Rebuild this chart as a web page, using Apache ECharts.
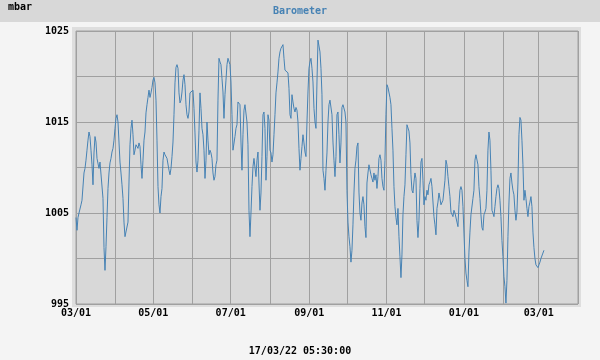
<!DOCTYPE html>
<html>
<head>
<meta charset="utf-8">
<script src="https://cdn.jsdelivr.net/npm/echarts@6/dist/echarts.min.js"></script>
<style>html,body{margin:0;padding:0;background:#f4f4f4;}#c{width:600px;height:360px;}</style>
</head>
<body>
<div id="c"></div>
<script>
// Barometer readings (mbar), one sample every ~18.93 h starting 2021-03-01
var startDate = '2021-03-01';
var sampleStepHours = 18.93;
var axisStart = '2021-03-01';
var axisEnd = '2022-04-01';
var yMin = 995, yMax = 1025, yStep = 5;
var labelledTicks = [995, 1005, 1015, 1025];
var titleText = 'Barometer';
var unitText = 'mbar';
var stampText = '17/03/22 05:30:00';

var segA = [1004.5,1003.1,1004.5,1005.0,1005.0,1005.9,1006.4,1006.6,1009.4,1009.9,
1010.8,1011.9,1013.0,1013.9,1013.4,1011.9,1010.3,1008.1,1011.6,1013.4,
1012.8,1011.0,1010.8,1009.9,1010.6,1010.8,1010.8,1006.6,1001.2,998.7,
1001.3,1004.5,1007.7,1009.4,1010.5,1011.0,1011.7,1012.1,1013.0,1014.3,
1015.4,1015.8,1015.0,1012.8,1010.6,1009.4,1008.1,1006.6,1004.0,1002.4];
var segB = [1002.4,1002.4,1004.0,1008.4,1012.5,1014.3,1015.2,1013.6,1011.4,1011.9,
1012.5,1012.7,1012.1,1012.7,1012.3,1010.3,1008.8,1010.8,1013.0,1013.9,
1016.0,1016.9,1017.7,1018.5,1017.7,1018.2,1018.8,1019.6,1019.9,1019.3,
1017.4,1013.0,1007.9,1005.9,1005.0,1006.8,1007.7,1010.8,1011.7,1011.4,
1011.2,1011.0,1010.8,1009.7,1009.2,1009.9,1011.2,1012.8,1015.8,1019.3];
var segC = [1021.0,1021.3,1020.9,1018.2,1017.1,1017.4,1018.3,1019.6,1020.2,1019.1,
1016.9,1015.8,1015.4,1016.1,1018.2,1018.0,1018.2,1018.5,1016.5,1013.8,
1010.6,1009.5,1010.8,1014.1,1018.2,1016.5,1014.3,1013.6,1011.9,1008.8,
1010.8,1015.0,1013.0,1011.4,1011.9,1011.6,1011.0,1009.4,1008.6,1009.0,
1010.3,1010.8,1017.4,1022.0,1021.6,1021.3,1019.8,1018.3,1015.4,1018.0];
var segD = [1019.6,1021.3,1022.0,1022.1,1021.3,1019.4,1015.8,1011.9,1012.1,1013.4,
1014.3,1014.7,1017.2,1017.4,1016.9,1012.8,1009.7,1013.6,1016.3,1016.9,
1016.9,1015.0,1012.5,1005.3,1002.4,1005.0,1007.9,1010.1,1011.0,1011.2,
1009.0,1010.8,1011.7,1008.3,1005.3,1007.2,1011.2,1015.8,1016.1,1014.3,
1008.6,1011.2,1015.8,1015.2,1011.9,1011.6,1010.6,1011.4,1013.6,1015.8];
var segE = [1018.2,1019.3,1020.5,1022.0,1022.7,1023.1,1023.2,1023.5,1022.0,1020.7,
1020.5,1020.5,1020.4,1018.7,1015.8,1015.4,1018.0,1017.2,1016.5,1016.1,
1016.6,1016.3,1015.0,1012.1,1009.7,1011.0,1012.3,1013.6,1012.7,1011.7,
1011.2,1015.0,1018.3,1020.9,1021.6,1022.0,1020.9,1019.4,1016.5,1015.0,
1014.3,1019.4,1024.0,1024.2,1022.7,1020.9,1018.0,1009.7,1008.8,1007.5];
var segF = [1009.7,1011.6,1015.0,1016.9,1017.4,1017.2,1015.8,1012.8,1010.8,1009.0,
1011.2,1015.8,1016.1,1013.6,1010.5,1012.7,1016.6,1016.9,1016.9,1016.1,
1015.0,1007.5,1004.0,1002.4,1001.3,999.6,1000.9,1003.7,1007.2,1009.9,
1010.8,1012.3,1012.7,1007.3,1005.0,1004.2,1006.1,1006.8,1005.9,1003.5,
1002.3,1008.3,1009.4,1010.3,1010.1,1009.2,1008.8,1008.4,1009.4,1008.6];
var segG = [1009.2,1007.7,1009.0,1011.0,1011.4,1010.8,1008.8,1007.9,1007.5,1010.8,
1015.8,1019.1,1018.8,1018.7,1017.7,1016.9,1014.3,1011.9,1007.9,1005.7,
1004.5,1003.7,1005.5,1002.4,1000.2,997.9,1000.4,1004.8,1006.8,1008.1,
1011.4,1014.7,1014.8,1014.0,1012.7,1009.2,1007.5,1007.2,1008.4,1009.4,
1008.8,1004.2,1002.3,1004.2,1007.7,1010.6,1011.0,1008.6,1005.9,1006.8];
var segH = [1006.4,1007.5,1007.0,1008.1,1008.4,1008.8,1007.9,1007.7,1004.6,1003.7,
1002.6,1005.5,1006.2,1007.2,1006.6,1005.9,1006.1,1006.4,1006.2,1008.6,
1010.8,1010.3,1009.0,1007.9,1006.8,1005.1,1005.0,1004.6,1005.3,1005.0,
1005.1,1004.0,1003.5,1005.9,1007.5,1007.9,1007.5,1005.7,1002.8,1000.0,
998.4,997.6,996.9,1000.7,1002.9,1004.8,1004.8,1006.6,1007.5,1010.8];
var segI = [1011.4,1011.4,1010.3,1007.9,1006.6,1004.8,1003.4,1003.1,1004.8,1005.1,
1005.5,1007.5,1011.9,1013.9,1013.0,1009.7,1005.3,1005.0,1004.6,1005.7,
1006.8,1007.7,1008.1,1007.7,1006.4,1004.6,1002.0,1000.2,998.0,996.9,
995.1,997.6,1002.4,1006.1,1008.8,1009.4,1008.3,1007.5,1007.0,1005.3,
1004.2,1005.1,1008.3,1013.6,1015.5,1015.2,1013.0,1010.3,1006.4,1007.5];
var segJ = [1006.6,1005.5,1004.6,1005.7,1006.2,1006.8,1005.7,1002.9,1001.2,1000.0,
999.3,999.1,999.0,999.3,999.6,1000.0,1000.2,1000.6,1000.9];

var values = [].concat(segA, segB, segC, segD, segE, segF, segG, segH, segI, segJ);
var t0 = Date.parse(startDate + 'T00:00:00Z');
var seriesData = values.map(function (v, i) {
  return [t0 + i * sampleStepHours * 3600 * 1000, v];
});

var mono = 'DejaVu Sans Mono';
var chart = echarts.init(document.getElementById('c'), null, {renderer: 'canvas'});
chart.setOption({
  useUTC: true,
  animation: false,
  backgroundColor: '#f4f4f4',
  graphic: [
    {type: 'rect', z: -10, shape: {x: 0, y: 0, width: 600, height: 22}, style: {fill: '#d8d8d8'}},
    {type: 'rect', z: -10, shape: {x: 72, y: 27, width: 509, height: 280}, style: {fill: '#dedede'}},
    {type: 'text', left: 8, top: 2, style: {text: unitText, font: 'bold 10px "DejaVu Sans Mono"', fill: '#000'}},
    {type: 'text', left: 'center', top: 346, style: {text: stampText, font: 'bold 10px "DejaVu Sans Mono"', fill: '#000'}}
  ],
  title: {
    text: titleText, left: 'center', top: 1,
    textStyle: {fontFamily: mono, fontSize: 10, fontWeight: 'bold', color: '#4682b4'}
  },
  grid: {
    left: 76, top: 31, right: 22, bottom: 56, show: true,
    backgroundColor: '#d8d8d8', borderColor: '#a0a0a0', borderWidth: 1
  },
  xAxis: {
    type: 'time',
    min: Date.parse(axisStart + 'T00:00:00Z'),
    max: Date.parse(axisEnd + 'T00:00:00Z'),
    minInterval: 28 * 86400000,
    maxInterval: 31 * 86400000,
    splitNumber: 13,
    axisLine: {show: false},
    axisTick: {show: false},
    splitLine: {show: true, lineStyle: {color: '#a0a0a0', width: 1}},
    axisLabel: {
      margin: 4, color: '#000', fontFamily: mono, fontSize: 10, fontWeight: 'bold',
      hideOverlap: false, showMinLabel: true, showMaxLabel: true,
      formatter: function (val) {
        var d = new Date(val);
        if (d.getUTCDate() !== 1 || d.getUTCMonth() % 2 !== 0) return '';
        var m = d.getUTCMonth() + 1;
        return (m < 10 ? '0' + m : '' + m) + '/01';
      },
      rich: {}
    }
  },
  yAxis: {
    type: 'value', min: yMin, max: yMax, interval: yStep,
    axisLine: {show: false},
    axisTick: {show: false},
    splitLine: {show: true, lineStyle: {color: '#a0a0a0', width: 1}},
    axisLabel: {
      margin: 7, color: '#000', fontFamily: mono, fontSize: 10, fontWeight: 'bold',
      formatter: function (v) { return labelledTicks.indexOf(v) >= 0 ? String(v) : ''; }
    }
  },
  series: [{
    type: 'line',
    data: seriesData,
    showSymbol: false,
    symbol: 'none',
    lineStyle: {color: '#4682b4', width: 1},
    itemStyle: {color: '#4682b4'}
  }]
});
</script>
</body>
</html>
